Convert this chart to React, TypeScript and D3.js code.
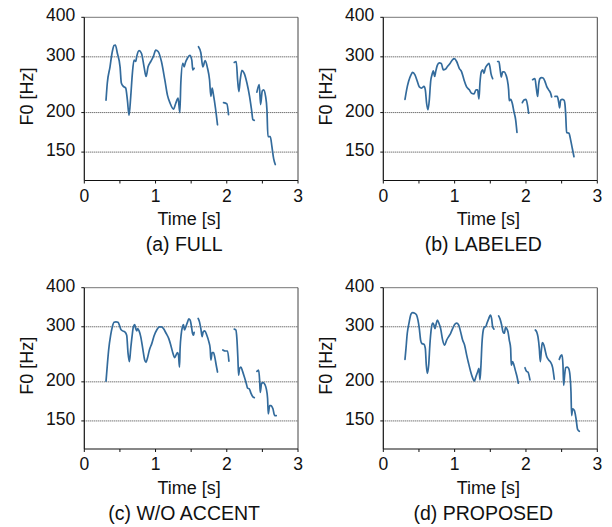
import React from "react";
import * as d3 from "d3";

type Pt = [number, number];

// F0 contours: [time (s), F0 (Hz)] per voiced segment
const FULL: Pt[][] = [
  [[0.305,219],[0.323,248],[0.361,279],[0.389,308],[0.417,326],[0.436,327],[0.464,308],[0.502,279],[0.520,248],[0.548,242],[0.581,239],[0.605,219],[0.628,196],[0.652,225],[0.675,266],[0.698,293],[0.722,290],[0.736,301],[0.769,314],[0.802,308],[0.839,279],[0.867,260],[0.895,279],[0.933,290],[0.970,301],[1.003,315],[1.036,312],[1.083,290],[1.130,254],[1.167,227],[1.205,214],[1.252,205],[1.284,214],[1.317,222],[1.341,200],[1.355,248],[1.383,286],[1.402,279],[1.420,288],[1.448,297],[1.481,303],[1.509,293],[1.523,273],[1.542,276]],
  [[1.603,323],[1.636,309],[1.664,279],[1.697,292],[1.730,276],[1.758,254],[1.777,225],[1.795,239],[1.814,227],[1.842,206],[1.870,183]],
  [[1.955,215],[2.002,213],[2.025,197]],
  [[2.105,288],[2.133,290],[2.152,254],[2.170,233],[2.189,254],[2.213,272],[2.245,266],[2.283,248],[2.320,225],[2.348,204],[2.367,190],[2.386,189]],
  [[2.423,232],[2.456,245],[2.475,212],[2.498,234],[2.517,236],[2.545,225],[2.564,204],[2.578,168],[2.611,168],[2.634,156],[2.658,143],[2.681,137]],
];

const LABELED: Pt[][] = [
  [[0.304,220],[0.327,236],[0.355,251],[0.388,263],[0.411,268],[0.444,263],[0.477,251],[0.505,241],[0.537,239],[0.570,242],[0.589,236],[0.607,214],[0.626,204],[0.645,219],[0.664,251],[0.682,263],[0.701,271],[0.720,260],[0.734,269],[0.757,282],[0.785,287],[0.813,286],[0.841,273],[0.869,274],[0.897,279],[0.935,286],[0.972,294],[0.995,296],[1.028,290],[1.065,276],[1.098,269],[1.131,254],[1.168,241],[1.206,236],[1.238,230],[1.271,229],[1.299,236],[1.322,236],[1.341,221],[1.355,248],[1.374,269],[1.393,273],[1.411,266],[1.430,276],[1.458,283],[1.481,286],[1.495,279],[1.509,266],[1.533,256]],
  [[1.603,290],[1.621,290],[1.636,276],[1.654,259],[1.673,269],[1.696,269],[1.720,263],[1.738,254],[1.757,236],[1.766,218],[1.785,220],[1.808,214],[1.832,201],[1.855,190],[1.874,173]],
  [[1.949,215],[1.972,219],[2.000,220],[2.023,210],[2.037,199]],
  [[2.093,254],[2.126,256],[2.145,239],[2.164,225],[2.178,245],[2.196,256],[2.220,258],[2.243,257],[2.266,251],[2.290,242],[2.318,236],[2.346,230],[2.360,224]],
  [[2.407,225],[2.439,225],[2.458,216],[2.472,207],[2.486,219],[2.509,220],[2.533,219],[2.547,212],[2.556,199],[2.570,173],[2.603,172],[2.626,164],[2.650,154],[2.673,145]],
];

const WO_ACCENT: Pt[][] = [
  [[0.305,201],[0.323,226],[0.342,253],[0.370,282],[0.394,300],[0.417,310],[0.445,311],[0.473,310],[0.492,304],[0.511,295],[0.539,291],[0.567,289],[0.595,282],[0.614,247],[0.633,232],[0.652,256],[0.670,279],[0.689,300],[0.708,305],[0.722,296],[0.736,291],[0.750,296],[0.769,291],[0.792,279],[0.820,256],[0.848,235],[0.867,231],[0.886,238],[0.914,253],[0.947,265],[0.980,281],[1.017,293],[1.055,300],[1.083,300],[1.111,296],[1.148,286],[1.186,275],[1.214,262],[1.242,248],[1.270,239],[1.289,244],[1.308,248],[1.322,244],[1.336,223],[1.345,256],[1.359,282],[1.378,300],[1.392,305],[1.406,293],[1.425,300],[1.448,310],[1.467,318],[1.486,315],[1.505,300],[1.519,286],[1.533,282],[1.542,288]],
  [[1.598,319],[1.617,311],[1.636,296],[1.655,279],[1.669,289],[1.692,291],[1.720,282],[1.748,269],[1.767,256],[1.777,235],[1.795,248],[1.814,248],[1.833,239],[1.852,226],[1.870,215]],
  [[1.945,253],[1.983,251],[2.011,251],[2.030,233]],
  [[2.105,295],[2.128,293],[2.142,275],[2.156,238],[2.166,210],[2.180,221],[2.198,223],[2.222,216],[2.245,208],[2.273,198],[2.292,191],[2.316,190],[2.339,184],[2.367,179],[2.386,178]],
  [[2.423,216],[2.447,218],[2.461,203],[2.470,185],[2.489,198],[2.513,199],[2.536,196],[2.555,190],[2.573,177],[2.583,158],[2.602,168],[2.620,168],[2.648,164],[2.672,156],[2.695,156]],
];

const PROPOSED: Pt[][] = [
  [[0.304,236],[0.318,256],[0.336,286],[0.360,308],[0.388,329],[0.411,333],[0.444,331],[0.467,327],[0.486,315],[0.505,296],[0.523,272],[0.542,265],[0.570,264],[0.589,256],[0.603,226],[0.617,213],[0.636,226],[0.654,265],[0.673,296],[0.692,308],[0.710,304],[0.724,296],[0.738,304],[0.757,315],[0.780,308],[0.804,296],[0.832,272],[0.860,262],[0.888,272],[0.916,279],[0.944,286],[0.972,296],[1.000,305],[1.028,308],[1.056,304],[1.084,289],[1.112,272],[1.140,262],[1.168,244],[1.196,229],[1.224,216],[1.252,206],[1.276,201],[1.299,208],[1.322,215],[1.341,221],[1.355,203],[1.369,226],[1.383,265],[1.402,293],[1.421,300],[1.435,300],[1.453,308],[1.477,318],[1.500,327],[1.519,318],[1.533,300],[1.551,295]],
  [[1.617,325],[1.636,318],[1.659,304],[1.678,289],[1.696,286],[1.715,299],[1.729,296],[1.748,289],[1.766,272],[1.785,256],[1.794,226],[1.813,232],[1.832,226],[1.855,216],[1.874,208],[1.893,198]],
  [[1.986,222],[2.009,216],[2.028,215],[2.056,203]],
  [[2.131,293],[2.150,289],[2.168,279],[2.187,256],[2.201,232],[2.215,251],[2.229,267],[2.252,262],[2.271,251],[2.290,241],[2.318,235],[2.346,231],[2.374,222],[2.397,204]],
  [[2.467,236],[2.486,242],[2.505,244],[2.519,226],[2.528,195],[2.542,210],[2.556,222],[2.579,223],[2.598,221],[2.617,210],[2.631,186],[2.640,156],[2.654,164],[2.678,162],[2.701,153],[2.724,141],[2.748,139]],
];

const CAPTIONS = ["(a) FULL", "(b) LABELED", "(c) W/O ACCENT", "(d) PROPOSED"];
const X_TICKS_MAJOR = [0, 1, 2, 3];
const X_TICKS_MINOR = [0.5, 1.5, 2.5];
const Y_TICKS = [150, 200, 300, 400];
const Y_GRID = [150, 200, 300];
const X_DOMAIN: [number, number] = [0, 3];
const Y_DOMAIN: [number, number] = [122, 400];
const X_LABEL = "Time [s]";
const Y_LABEL = "F0 [Hz]";

const FONT = "'Liberation Sans', Arial, Helvetica, sans-serif";
const LINE_COLOR = "#336b9c";

const LAYOUT = [
  { left: 84.3, top: 17.3, right: 298, bottom: 180.5 },
  { left: 383.3, top: 17.3, right: 597.3, bottom: 180.5 },
  { left: 84.3, top: 287.7, right: 298, bottom: 449 },
  { left: 383.3, top: 287.7, right: 597.3, bottom: 449 },
];

const DATASETS = [FULL, LABELED, WO_ACCENT, PROPOSED];

function Panel({ data, caption, box }: { data: Pt[][]; caption: string; box: { left: number; top: number; right: number; bottom: number } }) {
  const x = d3.scaleLinear().domain(X_DOMAIN).range([box.left, box.right]);
  const y = d3.scaleLog().domain(Y_DOMAIN).range([box.bottom, box.top]);
  const line = d3
    .line<Pt>()
    .x((d) => x(d[0]))
    .y((d) => y(d[1]))
    .curve(d3.curveMonotoneX);
  const cx = (box.left + box.right) / 2;
  const cy = (box.top + box.bottom) / 2;
  return (
    <g>
      {Y_GRID.map((v) => (
        <line key={"g" + v} x1={box.left} x2={box.right} y1={y(v)} y2={y(v)} stroke="#3a3a3a" strokeWidth={1} strokeDasharray="1 1" />
      ))}
      {/* frame */}
      <line x1={box.left} x2={box.right} y1={box.top} y2={box.top} stroke="#777" strokeWidth={1} />
      <line x1={box.right} x2={box.right} y1={box.top} y2={box.bottom} stroke="#444" strokeWidth={1} />
      <line x1={box.left} x2={box.left} y1={box.top} y2={box.bottom} stroke="#111" strokeWidth={1.2} />
      <line x1={box.left} x2={box.right} y1={box.bottom} y2={box.bottom} stroke="#111" strokeWidth={1.2} />
      {Y_TICKS.map((v) => (
        <g key={"y" + v}>
          <line x1={box.left - 3} x2={box.left} y1={y(v)} y2={y(v)} stroke="#111" strokeWidth={1} />
          <text x={box.left - 9} y={y(v) + 4} textAnchor="end" fontSize={17.5} fontFamily={FONT} fill="#111">
            {v}
          </text>
        </g>
      ))}
      {X_TICKS_MAJOR.concat(X_TICKS_MINOR).map((v) => (
        <line key={"xt" + v} x1={x(v)} x2={x(v)} y1={box.bottom} y2={box.bottom + 3} stroke="#111" strokeWidth={1} />
      ))}
      {X_TICKS_MAJOR.map((v) => (
        <text key={"xl" + v} x={x(v)} y={box.bottom + 21} textAnchor="middle" fontSize={17.5} fontFamily={FONT} fill="#111">
          {v}
        </text>
      ))}
      <text x={cx - 2} y={box.bottom + 44.5} textAnchor="middle" fontSize={18} fontFamily={FONT} fill="#111">
        {X_LABEL}
      </text>
      <text
        transform={`translate(${box.left - 51.8},${cy - 2.5}) rotate(-90)`}
        textAnchor="middle"
        fontSize={18}
        fontFamily={FONT}
        fill="#111"
      >
        {Y_LABEL}
      </text>
      <text x={cx - 7} y={box.bottom + 70.8} textAnchor="middle" fontSize={19.5} fontFamily={FONT} fill="#111">
        {caption}
      </text>
      {data.map((seg, i) => (
        <path key={"s" + i} d={line(seg) || ""} fill="none" stroke={LINE_COLOR} strokeWidth={1.7} strokeLinejoin="round" strokeLinecap="round" />
      ))}
    </g>
  );
}

export default function App() {
  return (
    <svg
      width={612}
      height={527}
      viewBox="0 0 612 527"
      style={{ position: "absolute", left: 0, top: 0, background: "#fff", display: "block" }}
    >
      <rect x={0} y={0} width={612} height={527} fill="#fff" />
      {DATASETS.map((d, i) => (
        <Panel key={i} data={d} caption={CAPTIONS[i]} box={LAYOUT[i]} />
      ))}
    </svg>
  );
}
